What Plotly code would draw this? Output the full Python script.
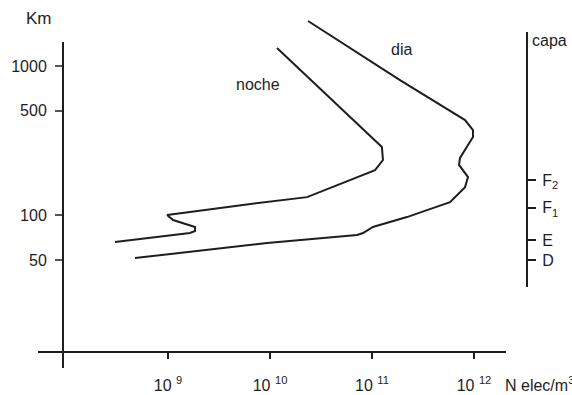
import plotly.graph_objects as go

# Electron density (electrons per m^3) against altitude (km)
noche_n = [1.17e10, 1.25e11, 1.28e11, 1.07e11, 2.31e10, 5.43e9, 9.8e8,
           1.12e9, 1.84e9, 1.84e9, 1.64e9, 3.02e8]
noche_h = [1321, 286, 234, 200, 132, 117, 100, 92.7, 83.2, 78.2, 75.8, 66.1]

dia_n = [2.36e10, 1.88e11, 8.17e11, 9.77e11, 9.77e11, 7.29e11, 7.13e11,
         8.73e11, 8.17e11, 5.82e11, 3.46e11, 2.20e11, 1.02e11, 8.17e10,
         7.13e10, 9.35e9, 4.74e8]
dia_h = [2004, 805, 434, 372, 334, 242, 217, 180, 154, 122, 108, 97,
         83.2, 75.8, 73.6, 65.0, 51.5]

# Axis ticks
x_ticks = [1e9, 1e10, 1e11, 1e12]
x_labels = ["10 <sup>9</sup>", "10 <sup>10</sup>", "10 <sup>11</sup>", "10 <sup>12</sup>"]
y_ticks = [50, 100, 500, 1000]
y_labels = ["50", "100", "500", "1000"]

# Ionospheric layers on the right-hand scale
capa_h = [172, 112, 68, 50]
capa_labels = ["F<sub>2</sub>", "F<sub>1</sub>", "E", "D"]

INK = "#1e1e1e"
FONT = dict(family="Liberation Sans, Arial, sans-serif", size=16, color=INK)

fig = go.Figure()
fig.add_trace(go.Scatter(x=noche_n, y=noche_h, mode="lines",
                         line=dict(color=INK, width=2), name="noche"))
fig.add_trace(go.Scatter(x=dia_n, y=dia_h, mode="lines",
                         line=dict(color=INK, width=2), name="dia"))
# invisible trace carrying the layer axis
fig.add_trace(go.Scatter(x=[None], y=[None], yaxis="y2", showlegend=False))

W, H = 572, 395
L, R, T, B = 38, 32, 15, 27
pw, ph = W - L - R, H - T - B


def px_x(px):
    return (px - L) / pw


def px_y(py):
    return (H - B - py) / ph


x_pos = px_y(352)
y_pos = px_x(63)
capa_pos = px_x(527)

fig.update_layout(
    width=W, height=H,
    margin=dict(l=L, r=R, t=T, b=B, autoexpand=False),
    paper_bgcolor="white", plot_bgcolor="white",
    showlegend=False,
    font=FONT,
    xaxis=dict(type="log", range=[7.725, 12.647], showgrid=False, zeroline=False,
               showline=False, anchor="free", position=x_pos, automargin=False,
               tickvals=x_ticks, ticktext=x_labels, ticks="outside",
               ticklen=6, tickwidth=2, tickcolor=INK, ticklabelstandoff=13,
               tickfont=FONT),
    yaxis=dict(type="log", range=[0.9745, 3.342], showgrid=False, zeroline=False,
               showline=False, anchor="free", position=y_pos, automargin=False,
               tickvals=y_ticks, ticktext=y_labels, ticks="outside",
               ticklen=8, tickwidth=1.5, tickcolor="#555", ticklabelstandoff=5,
               tickfont=FONT),
    yaxis2=dict(type="log", range=[0.9745, 3.342], overlaying="y", side="right",
                anchor="free", position=capa_pos, automargin=False,
                showgrid=False, zeroline=False,
                showline=False, tickvals=capa_h, ticktext=capa_labels,
                ticks="outside", ticklen=8, tickwidth=1.5, tickcolor=INK,
                ticklabelstandoff=3, tickfont=FONT),
)

# axis lines
fig.add_shape(type="line", xref="paper", yref="paper",
              x0=0, x1=px_x(506), y0=x_pos, y1=x_pos,
              line=dict(color=INK, width=2))
fig.add_shape(type="line", xref="paper", yref="paper",
              x0=y_pos, x1=y_pos, y0=0, y1=px_y(42),
              line=dict(color=INK, width=2))
fig.add_shape(type="line", xref="paper", yref="paper",
              x0=capa_pos, x1=capa_pos, y0=px_y(287), y1=px_y(32),
              line=dict(color=INK, width=2))

ann = dict(xref="paper", yref="paper", showarrow=False, font=FONT)
fig.add_annotation(text="Km", x=px_x(24), y=px_y(18), xanchor="left", yanchor="middle",
                   xref="paper", yref="paper", showarrow=False, font=dict(FONT, size=17))
fig.add_annotation(text="capa", x=px_x(530), y=px_y(40), xanchor="left", yanchor="middle", **ann)
fig.add_annotation(text="N elec/m<sup>3</sup>", x=px_x(503), y=px_y(384),
                   xanchor="left", yanchor="middle", **ann)
fig.add_annotation(text="noche", x=px_x(234), y=px_y(84), xanchor="left", yanchor="middle", **ann)
fig.add_annotation(text="dia", x=px_x(389), y=px_y(50), xanchor="left", yanchor="middle", **ann)

fig.write_html("out.html")
